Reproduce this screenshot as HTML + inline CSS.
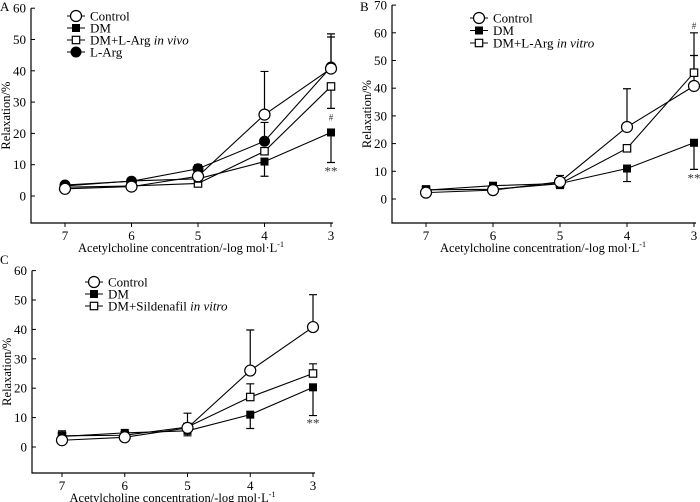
<!DOCTYPE html>
<html><head><meta charset="utf-8"><style>
html,body{margin:0;padding:0;background:#fff;}
svg{display:block;font-family:"Liberation Serif",serif;}
</style></head><body>
<svg id="fig" width="700" height="502" viewBox="0 0 700 502"></svg>
<script>
const categories = [7, 6, 5, 4, 3];
// Panel A
const aControl = [2.3, 3.0, 6.3, 26.0, 40.7];
const aDM = [3.2, 4.8, 5.5, 11.0, 20.3];
const aVivo = [2.8, 3.2, 4.0, 14.3, 35.0];
const aLArg = [3.5, 4.7, 8.7, 17.5, 41.2];
const aControlErr = [null, null, null, 39.8, 51.8];
const aDMErr = [null, null, null, 6.3, 10.7];
const aVivoErr = [null, null, null, null, 28.0];
const aLArgErr = [null, null, 10.0, 23.5, 50.8];
// Panel B
const bControl = [2.3, 3.2, 6.2, 26.0, 40.8];
const bDM = [3.2, 4.8, 5.6, 11.0, 20.3];
const bVitro = [3.3, 3.5, 5.5, 18.3, 45.6];
const bControlErr = [null, null, null, 39.8, 51.8];
const bDMErr = [4.8, null, 3.8, 6.3, 10.7];
const bVitroErr = [null, null, 8.5, null, 60.0];
// Panel C
const cControl = [2.3, 3.3, 6.5, 26.0, 40.8];
const cDM = [3.6, 4.8, 5.5, 11.0, 20.3];
const cSild = [3.8, 4.0, 6.8, 17.0, 25.0];
const cControlErr = [null, null, null, 39.8, 51.8];
const cDMErr = [null, null, 3.8, 6.3, 10.7];
const cSildErr = [5.5, null, 11.5, 21.5, 28.3];
const aTicks = [0, 10, 20, 30, 40, 50, 60];
const bTicks = [0, 10, 20, 30, 40, 50, 60, 70];
const cTicks = [0, 10, 20, 30, 40, 50, 60];

const NS = "http://www.w3.org/2000/svg";
const svg = document.getElementById('fig');
function mk(tag, attrs, parent, text) {
  const e = document.createElementNS(NS, tag);
  for (const k in attrs) e.setAttribute(k, attrs[k]);
  if (text !== undefined) e.textContent = text;
  (parent || svg).appendChild(e);
  return e;
}
function marker(g, type, x, y) {
  let m;
  if (type === 'oc') m = mk('circle', {cx: x, cy: y, r: 5.5, fill: '#fff', stroke: '#000', 'stroke-width': 1.2}, g);
  else if (type === 'fc') m = mk('circle', {cx: x, cy: y, r: 5, fill: '#000', stroke: '#000'}, g);
  else if (type === 'fs') m = mk('rect', {x: x - 4, y: y - 4, width: 8, height: 8, fill: '#000'}, g);
  else m = mk('rect', {x: x - 3.7, y: y - 3.7, width: 7.4, height: 7.4, fill: '#fff', stroke: '#000', 'stroke-width': 1.2}, g);
  return m;
}
function panel(P) {
  const g = mk('g', {});
  
  
  const yS = v => P.y0 - (v / 10) * P.u;
  const xS = i => P.x7 + i * P.dx;
  const ax = mk('path', {d: `M${P.ax} ${yS(P.ymax)} V${P.bottom} H${xS(4) + 2}`, fill: 'none', stroke: '#000', 'stroke-width': 1.2}, g);
  
  
  P.ticks.forEach(t => {
    mk('line', {x1: P.ax, x2: P.ax + 4, y1: yS(t), y2: yS(t), stroke: '#000'}, g);
    const tl = mk('text', {x: P.ax - 5, y: yS(t) + 4.5, 'text-anchor': 'end', 'font-size': 13}, g, t);
    
    
  });
  categories.forEach((c, i) => {
    mk('line', {x1: xS(i), x2: xS(i), y1: P.bottom, y2: P.bottom + 4, stroke: '#000'}, g);
    const tl = mk('text', {x: xS(i), y: P.bottom + 17, 'text-anchor': 'middle', 'font-size': 13}, g, c);
    
    
  });
  const yl = mk('text', {x: 0, y: 0, transform: `translate(${P.ax - 21},${(yS(P.ymax) + P.bottom) / 2}) rotate(-90)`, 'text-anchor': 'middle', 'font-size': 12.5}, g, 'Relaxation/%');
  
  
  const xl = mk('text', {x: (P.ax + xS(4)) / 2, y: P.bottom + 29, 'text-anchor': 'middle', 'font-size': 12.5}, g);
  
  
  xl.appendChild(document.createTextNode('Acetylcholine concentration/-log mol·L'));
  mk('tspan', {dy: -5, 'font-size': 8}, xl, '-1');
  const pl = mk('text', {x: P.lx, y: P.ly, 'font-size': 13}, g, P.letter);
  
  
  P.series.forEach(s => {
    const sg = mk('g', {}, g);
    
    
    s.err.forEach((e, i) => {
      if (e === null) return;
      const x = xS(i);
      const eb = mk('path', {d: `M${x} ${yS(s.vals[i])} V${yS(e)} M${x - 4} ${yS(e)} H${x + 4}`, stroke: '#000', 'stroke-width': 1.2, fill: 'none'}, sg);
      
      
    });
    const ln = mk('polyline', {points: s.vals.map((v, i) => xS(i) + ',' + yS(v)).join(' '), fill: 'none', stroke: '#000', 'stroke-width': 1.1}, sg);
    
    
  });
  P.series.slice().reverse().forEach(s => {
    s.vals.forEach((v, i) => {
      const m = marker(g, s.type, xS(i), yS(v));
      
      
    });
  });
  (P.notes || []).forEach(n => {
    const t = mk('text', {x: xS(4), y: yS(n.v) + n.off, 'text-anchor': 'middle', 'font-size': n.s, fill: '#333'}, g, n.t);
    
    
  });
  P.series.forEach((s, k) => {
    const y = P.legY + k * P.legDy;
    const lg = mk('g', {}, g);
    
    
    mk('line', {x1: P.legX - 9, x2: P.legX + 9, y1: y, y2: y, stroke: '#000', 'stroke-width': 1.1}, lg);
    marker(lg, s.type, P.legX, y);
    const t = mk('text', {x: P.legX + 14, y: y + 4.5, 'font-size': 13}, lg, s.label);
    if (s.it) mk('tspan', {'font-style': 'italic'}, t, s.it);
  });
}
panel({name: 'panel-a', letter: 'A', lx: 0, ly: 11, ax: 31, y0: 196, u: 31.3, ymax: 60, bottom: 223, x7: 65, dx: 66.5, ticks: aTicks,
  legX: 76, legY: 16, legDy: 12, notes: [{v: 28, off: 12, t: '#', s: 9}, {v: 10.7, off: 13, t: '**', s: 13}],
  series: [
    {id: 'control', label: 'Control', type: 'oc', vals: aControl, err: aControlErr},
    {id: 'dm', label: 'DM', type: 'fs', vals: aDM, err: aDMErr},
    {id: 'dm-larg-vivo', label: 'DM+L-Arg ', it: 'in vivo', type: 'os', vals: aVivo, err: aVivoErr},
    {id: 'larg', label: 'L-Arg', type: 'fc', vals: aLArg, err: aLArgErr}]});
panel({name: 'panel-b', letter: 'B', lx: 360, ly: 11, ax: 392, y0: 199, u: 27.7, ymax: 70, bottom: 223, x7: 426, dx: 67, ticks: bTicks,
  legX: 479, legY: 18, legDy: 12.5, notes: [{v: 60, off: -4, t: '#', s: 9}, {v: 10.7, off: 13, t: '**', s: 13}],
  series: [
    {id: 'control', label: 'Control', type: 'oc', vals: bControl, err: bControlErr},
    {id: 'dm', label: 'DM', type: 'fs', vals: bDM, err: bDMErr},
    {id: 'dm-larg-vitro', label: 'DM+L-Arg ', it: 'in vitro', type: 'os', vals: bVitro, err: bVitroErr}]});
panel({name: 'panel-c', letter: 'C', lx: 0, ly: 264, ax: 32, y0: 447, u: 29.4, ymax: 60, bottom: 473, x7: 62, dx: 62.75, ticks: cTicks,
  legX: 94, legY: 282, legDy: 12, notes: [{v: 10.7, off: 12, t: '**', s: 13}],
  series: [
    {id: 'control', label: 'Control', type: 'oc', vals: cControl, err: cControlErr},
    {id: 'dm', label: 'DM', type: 'fs', vals: cDM, err: cDMErr},
    {id: 'dm-sildenafil', label: 'DM+Sildenafil ', it: 'in vitro', type: 'os', vals: cSild, err: cSildErr}]});
</script>
</body></html>
